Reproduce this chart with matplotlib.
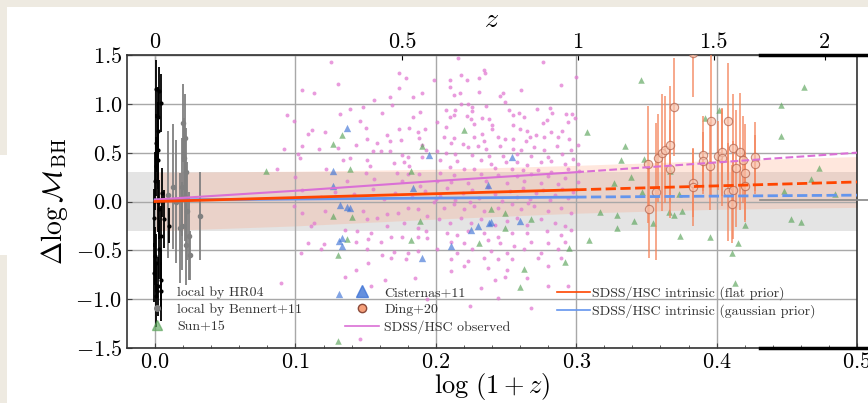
import numpy as np
import matplotlib
matplotlib.use("Agg")
import matplotlib.pyplot as plt
from matplotlib.lines import Line2D
from matplotlib.patches import Rectangle

plt.rcParams["font.family"] = "serif"
plt.rcParams["font.serif"] = ["cmr10"]
plt.rcParams["mathtext.fontset"] = "cm"
plt.rcParams["axes.formatter.use_mathtext"] = True

# local by HR04 (x, y, err)
hr04_x = [0.001, 0.003, 0.002, 0.002, 0.000, 0.005, -0.001, 0.006, 0.010, -0.001,
          0.004, 0.004, 0.001, 0.003, 0.002, 0.001, 0.002, 0.004, 0.001, 0.004,
          0.001, 0.002, 0.003, 0.000, 0.002]
hr04_y = [1.15, 1.13, 0.72, 0.53, 0.21, 0.09, -0.17, -0.18, -0.25, -0.73,
          -0.80, -0.92, -0.97, -0.49, 0.87, 0.36, -0.01, -0.35, -0.63, 1.01,
          0.60, 0.43, -0.08, -0.56, -0.87]
hr04_err = [0.30, 0.25, 0.30, 0.30, 0.30, 0.25, 0.30, 0.30, 0.18, 0.30,
            0.30, 0.30, 0.32, 0.30, 0.30, 0.30, 0.30, 0.30, 0.30, 0.30,
            0.30, 0.30, 0.30, 0.30, 0.30]

# local by Bennert+11
ben_x = [0.0095, 0.0125, 0.015, 0.0174, 0.020, 0.021, 0.0205, 0.022, 0.019, 0.0215,
         0.023, 0.0195, 0.022, 0.024, 0.025, 0.0317]
ben_y = [0.07, 0.15, 0.00, -0.27, 0.80, 0.65, 0.45, 0.30, 0.15, 0.05,
         -0.10, -0.25, -0.45, -0.35, -0.55, -0.15]
ben_err = [0.65, 0.64, 0.63, 0.56, 0.40, 0.45, 0.40, 0.45, 0.50, 0.45,
           0.50, 0.45, 0.40, 0.45, 0.25, 0.45]

# Sun+15
sun_x = [0.346, 0.308, 0.335, 0.332, 0.348, 0.327, 0.339, 0.347, 0.317, 0.329,
         0.341, 0.329, 0.309, 0.355, 0.366, 0.370, 0.375, 0.374, 0.373, 0.367,
         0.395, 0.392, 0.402, 0.415, 0.411, 0.413, 0.420, 0.448, 0.446, 0.446,
         0.462, 0.473, 0.467, 0.453, 0.460, 0.484, 0.133, 0.220, 0.139, 0.182,
         0.127, 0.140, 0.189, 0.239, 0.268, 0.249, 0.182, 0.137, 0.231, 0.127,
         0.190, 0.130, 0.130, 0.249, 0.263, 0.292, 0.260, 0.295, 0.079]
sun_y = [1.24, 0.71, 0.565, 0.42, 0.435, 0.19, 0.25, 0.095, -0.105, -0.14,
         -0.195, -0.27, -0.39, -0.22, -0.11, -0.14, -0.10, -0.35, 0.08, 0.31,
         -0.36, 0.855, 0.94, -0.42, -0.53, -0.83, -0.245, 0.105, 0.67, 0.99,
         1.17, 0.34, 0.23, -0.18, -0.21, 0.08, 0.68, 0.73, 0.33, 0.31,
         -0.15, -0.16, -0.20, -0.075, -0.18, -0.115, -0.395, -0.38, -0.42, 0.59,
         0.57, -0.55, -1.43, -0.27, -0.69, -0.62, -0.88, -0.48, 0.31]

# Cisternas+11
cis_x = [0.137, 0.127, 0.127, 0.139, 0.254, 0.237, 0.239, 0.225, 0.230, 0.260,
         0.131, 0.133, 0.195, 0.184, 0.132, 0.137, 0.133, 0.190, 0.131, 0.238,
         0.211]
cis_y = [0.75, 0.31, 0.16, -0.065, 0.46, 0.17, -0.21, -0.29, -0.25, -0.20,
         -0.40, -0.37, 0.48, 0.14, -0.04, -0.055, -0.46, -0.575, -0.95, -0.225,
         -0.46]

# Ding+20
ding_x = [0.351, 0.352, 0.357, 0.358, 0.361, 0.363, 0.367, 0.367, 0.370, 0.383,
          0.383, 0.383, 0.390, 0.390, 0.396, 0.395, 0.401, 0.404, 0.404, 0.408,
          0.408, 0.411, 0.412, 0.412, 0.414, 0.417, 0.419, 0.420, 0.420, 0.427,
          0.427]
ding_y = [0.38, -0.08, 0.10, 0.45, 0.50, 0.53, 0.33, 0.58, 0.97, 0.19,
          0.15, 1.52, 0.48, 0.41, 0.82, 0.36, 0.47, 0.51, 0.45, 0.82,
          0.10, -0.03, 0.12, 0.55, 0.34, 0.51, 0.43, 0.29, 0.16, 0.46,
          0.38]
ding_err = [0.60, 0.50, 0.70, 0.45, 0.60, 0.55, 0.50, 0.60, 0.50, 0.35,
            0.40, 0.45, 0.40, 0.30, 0.75, 0.45, 0.35, 0.45, 0.50, 0.60,
            0.50, 0.40, 0.50, 0.55, 0.60, 0.60, 0.45, 0.50, 0.35, 0.35,
            0.30]

# SDSS/HSC observed
sdss_x = [
    0.125, 0.105, 0.113, 0.130, 0.174, 0.179, 0.174, 0.167, 0.156, 0.184,
    0.190, 0.094, 0.099, 0.132, 0.139, 0.148, 0.162, 0.169, 0.189, 0.146,
    0.150, 0.184, 0.112, 0.109, 0.121, 0.165, 0.174, 0.181, 0.187, 0.192,
    0.151, 0.143, 0.158, 0.167, 0.175, 0.188, 0.190, 0.193, 0.092, 0.105,
    0.117, 0.130, 0.155, 0.161, 0.167, 0.176, 0.180, 0.190, 0.102, 0.103,
    0.139, 0.134, 0.151, 0.170, 0.177, 0.181, 0.087, 0.122, 0.153, 0.150,
    0.172, 0.180, 0.188, 0.100, 0.137, 0.156, 0.176, 0.189,
    0.216, 0.276, 0.199, 0.210, 0.218, 0.222, 0.231, 0.234, 0.235, 0.210,
    0.289, 0.261, 0.300, 0.213, 0.217, 0.231, 0.248, 0.246, 0.249, 0.218,
    0.223, 0.207, 0.214, 0.226, 0.226, 0.236, 0.252, 0.259, 0.272, 0.281,
    0.283, 0.293, 0.297, 0.299, 0.210, 0.213, 0.222, 0.225, 0.233, 0.238,
    0.255, 0.263, 0.279, 0.276, 0.294, 0.201, 0.207, 0.227, 0.240, 0.240,
    0.255, 0.260, 0.265, 0.267, 0.271, 0.290, 0.282, 0.206, 0.213, 0.227,
    0.233, 0.244, 0.249, 0.255, 0.264, 0.277, 0.287, 0.295, 0.211, 0.219,
    0.223, 0.230, 0.234, 0.236, 0.246, 0.255, 0.261, 0.270, 0.277, 0.286,
    0.296, 0.301, 0.201, 0.207, 0.214, 0.226, 0.238, 0.248, 0.258, 0.268,
    0.280, 0.290, 0.298, 0.203, 0.215, 0.232, 0.239, 0.250, 0.258, 0.265,
    0.275, 0.282, 0.292, 0.301, 0.210, 0.220, 0.227, 0.242, 0.254, 0.262,
    0.273, 0.282, 0.294, 0.302, 0.203, 0.213, 0.232, 0.244, 0.258, 0.268,
    0.280, 0.292, 0.201, 0.211, 0.223, 0.236, 0.251, 0.263, 0.275, 0.287,
    0.301,
    0.099, 0.105, 0.113, 0.121, 0.148, 0.151, 0.158, 0.165, 0.173, 0.180,
    0.187, 0.194, 0.111, 0.135, 0.144, 0.154, 0.165, 0.177, 0.187, 0.193,
    0.109, 0.120, 0.118, 0.143, 0.152, 0.161, 0.168, 0.176, 0.187, 0.194,
    0.151, 0.162, 0.170, 0.180, 0.187, 0.152, 0.168, 0.179, 0.143, 0.135,
    0.164, 0.185, 0.090, 0.104, 0.154, 0.194, 0.146,
    0.199, 0.206, 0.213, 0.220, 0.227, 0.234, 0.244, 0.254, 0.261, 0.270,
    0.280, 0.289, 0.296, 0.202, 0.210, 0.218, 0.225, 0.232, 0.242, 0.251,
    0.258, 0.265, 0.275, 0.285, 0.292, 0.208, 0.215, 0.223, 0.234, 0.244,
    0.254, 0.265, 0.279, 0.289, 0.296, 0.211, 0.220, 0.237, 0.246, 0.256,
    0.268, 0.280, 0.292, 0.201, 0.215, 0.226, 0.239, 0.251, 0.263, 0.275,
    0.287, 0.211, 0.223, 0.234, 0.244, 0.254, 0.273, 0.289, 0.220, 0.237,
    0.251, 0.280, 0.211, 0.249, 0.265, 0.232, 0.244, 0.280, 0.294, 0.224,
    0.268, 0.242,
    0.105, 0.118, 0.128, 0.142, 0.155, 0.163, 0.171, 0.183, 0.192, 0.203,
    0.208, 0.214, 0.219, 0.226, 0.231, 0.237, 0.242, 0.247, 0.253, 0.258,
    0.262, 0.267, 0.271, 0.276, 0.281, 0.285, 0.290, 0.294, 0.298, 0.224,
    0.266, 0.200,
]
sdss_y = [
    1.43, 1.14, 1.11, 1.20, 1.32, 1.26, 1.16, 1.07, 1.04, 1.07,
    1.11, 0.89, 0.82, 0.90, 0.95, 0.97, 0.91, 0.99, 0.92, 0.82,
    0.75, 0.87, 0.73, 0.69, 0.71, 0.68, 0.74, 0.75, 0.71, 0.74,
    0.64, 0.58, 0.60, 0.62, 0.63, 0.65, 0.58, 0.53, 0.54, 0.57,
    0.54, 0.55, 0.52, 0.52, 0.52, 0.48, 0.46, 0.46, 0.49, 0.45,
    0.45, 0.43, 0.43, 0.39, 0.40, 0.36, 0.33, 0.33, 0.36, 0.29,
    0.29, 0.28, 0.28, 0.25, 0.21, 0.23, 0.21, 0.16,
    1.47, 1.43, 1.24, 1.24, 1.30, 1.24, 1.26, 1.35, 1.32, 1.17,
    1.19, 1.14, 1.27, 1.09, 1.11, 1.12, 1.11, 1.08, 1.02, 1.00,
    1.00, 0.94, 0.94, 0.97, 0.93, 0.98, 0.94, 0.91, 0.95, 0.96,
    0.91, 0.90, 0.90, 0.86, 0.87, 0.89, 0.88, 0.84, 0.86, 0.84,
    0.89, 0.87, 0.83, 0.80, 0.81, 0.81, 0.76, 0.79, 0.78, 0.74,
    0.78, 0.74, 0.72, 0.66, 0.68, 0.72, 0.71, 0.66, 0.65, 0.66,
    0.69, 0.66, 0.64, 0.64, 0.62, 0.66, 0.66, 0.64, 0.60, 0.59,
    0.56, 0.57, 0.62, 0.54, 0.57, 0.54, 0.53, 0.56, 0.53, 0.57,
    0.53, 0.58, 0.52, 0.50, 0.49, 0.48, 0.47, 0.47, 0.49, 0.47,
    0.46, 0.49, 0.44, 0.43, 0.41, 0.42, 0.38, 0.40, 0.40, 0.37,
    0.40, 0.41, 0.38, 0.38, 0.35, 0.33, 0.33, 0.34, 0.33, 0.32,
    0.32, 0.30, 0.33, 0.31, 0.29, 0.27, 0.28, 0.27, 0.26, 0.28,
    0.26, 0.24, 0.21, 0.20, 0.19, 0.21, 0.19, 0.21, 0.19, 0.18,
    0.20,
    -0.05, -0.12, -0.22, -0.10, -0.10, -0.18, -0.17, -0.13, -0.12, -0.07,
    -0.08, -0.15, -0.25, -0.29, -0.30, -0.32, -0.25, -0.22, -0.27, -0.30,
    -0.42, -0.44, -0.49, -0.41, -0.38, -0.41, -0.36, -0.36, -0.36, -0.37,
    -0.49, -0.55, -0.52, -0.53, -0.51, -0.63, -0.58, -0.59, -0.70, -0.77,
    -0.80, -0.78, -0.83, -0.53, -0.87, -1.00, -1.41,
    -0.01, -0.07, -0.03, -0.08, -0.05, -0.10, -0.07, -0.03, -0.08, -0.05,
    -0.10, -0.07, -0.12, -0.18, -0.22, -0.17, -0.22, -0.18, -0.24, -0.20,
    -0.17, -0.24, -0.18, -0.22, -0.25, -0.32, -0.34, -0.30, -0.32, -0.36,
    -0.32, -0.32, -0.30, -0.34, -0.29, -0.41, -0.42, -0.39, -0.42, -0.46,
    -0.41, -0.42, -0.41, -0.49, -0.53, -0.49, -0.51, -0.53, -0.49, -0.53,
    -0.49, -0.59, -0.61, -0.58, -0.59, -0.59, -0.58, -0.58, -0.66, -0.68,
    -0.70, -0.66, -0.71, -0.77, -0.78, -0.89, -0.99, -0.87, -0.87, -1.07,
    -1.09, -0.80,
    0.12, 0.05, 0.10, 0.08, 0.13, 0.03, 0.09, 0.05, 0.11, 0.06,
    0.14, 0.02, 0.09, 0.12, 0.04, 0.15, 0.08, 0.01, 0.11, 0.05,
    0.14, 0.03, 0.09, 0.12, 0.02, 0.07, 0.13, 0.04, 0.10, -0.01,
    -0.02, 0.03,
]

# fitted relations, read at a few redshifts
fit_x = [0.0, 0.1, 0.2, 0.3, 0.4, 0.5]
obs_fit = [0.02, 0.11, 0.21, 0.30, 0.40, 0.50]
flat_fit = [0.00, 0.04, 0.08, 0.12, 0.16, 0.20]
gauss_fit = [0.015, 0.025, 0.035, 0.045, 0.055, 0.065]
band_lo = [-0.30, -0.25, -0.18, -0.12, -0.08, -0.06]
band_hi = [0.30, 0.31, 0.33, 0.37, 0.42, 0.46]

z_ticks = [0, 0.5, 1, 1.5, 2]
z_labels = ["0", "0.5", "1", "1.5", "2"]

W, H = 868, 403
fig = plt.figure(figsize=(W / 100, H / 100), dpi=100)
ax = fig.add_axes([127 / W, 1 - 348 / H, 730 / W, 293 / H])

ax.axhspan(-0.3, 0.3, color="#dedede", alpha=0.8, lw=0, zorder=0.2)
ax.fill_between(fit_x, band_lo, band_hi, color="lightsalmon", alpha=0.25, lw=0, zorder=0.3)

ax.errorbar(hr04_x, hr04_y, yerr=hr04_err, fmt=".", color="black", ms=4,
            elinewidth=1.3, zorder=3, label="local by HR04")
ax.errorbar(ben_x, ben_y, yerr=ben_err, fmt="o", color="gray", ms=3,
            elinewidth=1.3, zorder=2.9, label="local by Bennert+11")
ax.scatter(sun_x, sun_y, marker="^", s=22, color="#5aa45a", alpha=0.65, lw=0,
           zorder=2.5, label="Sun+15")
ax.scatter(cis_x, cis_y, marker="^", s=28, color="#3f74d6", alpha=0.65, lw=0,
           zorder=2.6)
ax.scatter(sdss_x, sdss_y, s=8, color="#e27ad2", alpha=0.75, lw=0, zorder=2.2)
ax.errorbar(ding_x, ding_y, yerr=ding_err, fmt="o", ms=6, mfc="#f8c4ae",
            mec="#b0604a", mew=0.8, ecolor="#f4845a", elinewidth=1.4,
            alpha=0.7, zorder=2.8)

# solid where data exist, dashed beyond z = 1
ax.plot(fit_x[:4], obs_fit[:4], color="orchid", lw=1.5, zorder=3.2)
ax.plot(fit_x[3:], obs_fit[3:], color="orchid", lw=1.5, ls="--", zorder=3.2)
ax.plot(fit_x[:4], flat_fit[:4], color="orangered", lw=2, zorder=3.3)
ax.plot(fit_x[3:], flat_fit[3:], color="orangered", lw=2, ls="--", zorder=3.3)
ax.plot(fit_x[:4], gauss_fit[:4], color="cornflowerblue", lw=2, zorder=3.1)
ax.plot(fit_x[3:], gauss_fit[3:], color="cornflowerblue", lw=2, ls="--", zorder=3.1)

ax.set_xlim(-0.02, 0.5)
ax.set_ylim(-1.5, 1.5)
ax.set_xticks([0.0, 0.1, 0.2, 0.3, 0.4, 0.5])
ax.set_xticks(np.arange(0, 0.5, 0.02), minor=True)
ax.set_yticks([-1.5, -1.0, -0.5, 0.0, 0.5, 1.0, 1.5])
ax.tick_params(which="both", direction="in", labelsize=16, color="#444444")
ax.tick_params(which="major", axis="x", pad=3)
ax.tick_params(which="minor", length=2, left=False)
ax.grid(True, which="major", color="#a8a8a8", lw=1)
ax.set_axisbelow(True)
for sp in ax.spines.values():
    sp.set_color("#333333")
    sp.set_linewidth(1.2)

ax.set_xlabel(r"$\log\,(1+z)$", fontsize=19, labelpad=-1)
ax.set_ylabel(r"$\Delta\log\mathcal{M}_{\rm BH}$", fontsize=20, labelpad=4)

secax = ax.secondary_xaxis(
    "top",
    functions=(lambda x: 10 ** x - 1, lambda z: np.log10(np.clip(1 + z, 1e-6, None))),
)
secax.set_xticks(z_ticks, z_labels)
secax.tick_params(direction="in", labelsize=16, pad=2)
secax.set_xlabel(r"$z$", fontsize=20, labelpad=4)

# legends
h_hr = ax.errorbar([], [], yerr=[], fmt=".", color="black", ms=4)
h_ben = Line2D([], [], marker="o", ls="", color="gray", ms=4)
h_sun = Line2D([], [], marker="^", ls="", color="#5aa45a", alpha=0.65, ms=7)
leg1 = ax.legend([h_hr, h_ben, h_sun], ["local by HR04", "local by Bennert+11", "Sun+15"],
                 loc="upper left", bbox_to_anchor=(0.031, 0.21), frameon=False,
                 fontsize=10, handlelength=1.0, handletextpad=1.0, borderpad=0,
                 borderaxespad=0, labelspacing=0.3, labelcolor="#333333")
ax.add_artist(leg1)

h_cis = Line2D([], [], marker="^", ls="", color="#3f74d6", alpha=0.8, ms=9)
h_ding = Line2D([], [], marker="o", ls="", mfc="#f6a07a", mec="#8b4a3a", ms=6)
h_obs = Line2D([], [], color="orchid", lw=1.2)
leg2 = ax.legend([h_cis, h_ding, h_obs], ["Cisternas+11", "Ding+20", "SDSS/HSC observed"],
                 loc="upper left", bbox_to_anchor=(0.298, 0.21), frameon=False,
                 fontsize=10, handlelength=2.5, handletextpad=0.35, borderpad=0,
                 borderaxespad=0, labelspacing=0.3, labelcolor="#333333")
ax.add_artist(leg2)

h_flat = Line2D([], [], color="orangered", lw=1.2)
h_gauss = Line2D([], [], color="cornflowerblue", lw=1.2)
ax.legend([h_flat, h_gauss],
          ["SDSS/HSC intrinsic (flat prior)", "SDSS/HSC intrinsic (gaussian prior)"],
          loc="upper left", bbox_to_anchor=(0.589, 0.21), frameon=False,
          fontsize=10, handlelength=2.4, handletextpad=0.15, borderpad=0,
          borderaxespad=0, labelspacing=0.3, labelcolor="#333333")

# screenshot frame pieces around the figure
beige = "#eeeae1"
fig.add_artist(Rectangle((0, 1 - 7 / H), 1, 7 / H, transform=fig.transFigure,
                         color=beige, lw=0, zorder=-1))
fig.add_artist(Rectangle((0, 1 - 155 / H), 7 / W, 155 / H, transform=fig.transFigure,
                         color=beige, lw=0, zorder=-1))
fig.add_artist(Rectangle((0, 0), 7 / W, 148 / H, transform=fig.transFigure,
                         color=beige, lw=0, zorder=-1))
fig.add_artist(Line2D([760 / W, 1], [1 - 55 / H] * 2, transform=fig.transFigure,
                      color="black", lw=2.5))
fig.add_artist(Line2D([760 / W, 1], [1 - 348 / H] * 2, transform=fig.transFigure,
                      color="black", lw=2.5))
fig.add_artist(Line2D([760 / W, 1], [1 - 200 / H] * 2, transform=fig.transFigure,
                      color="#888888", lw=1.2))

plt.savefig("out.png", dpi=100)
